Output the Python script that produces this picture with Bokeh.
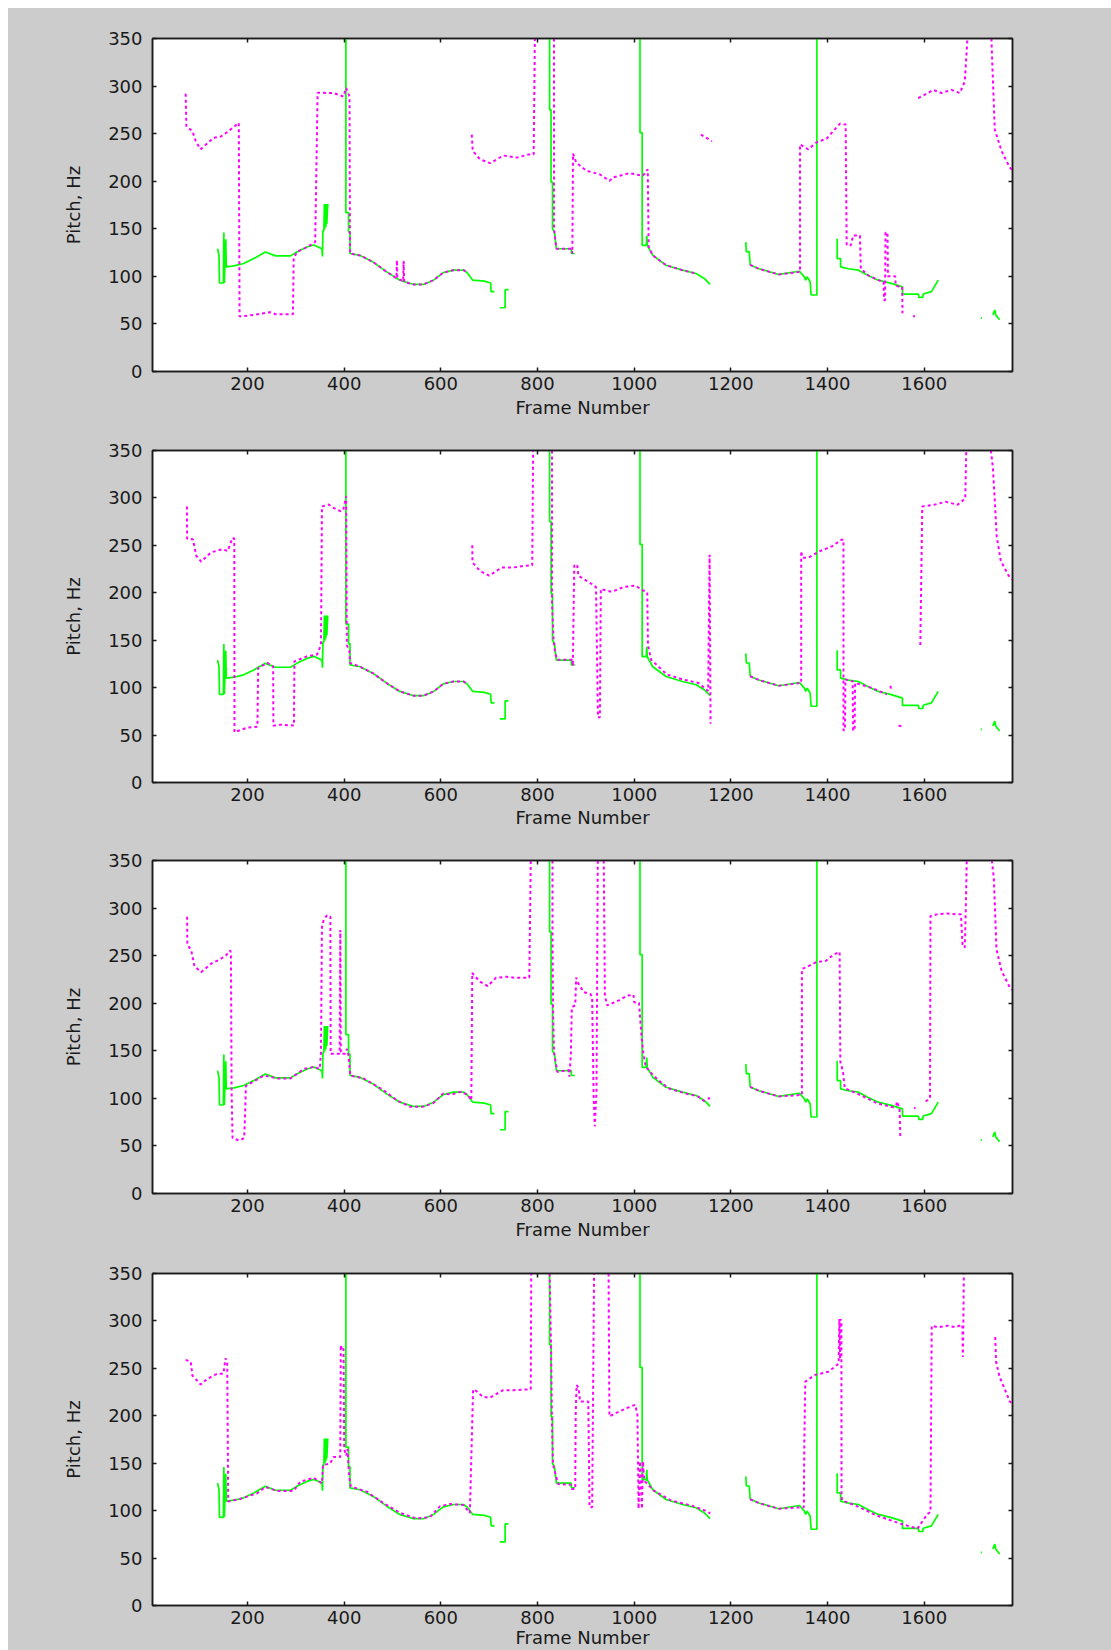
from bokeh.plotting import figure
from bokeh.models import LinearAxis, FixedTicker, Range1d, CustomLabelingPolicy
from bokeh.layouts import column
from bokeh.embed import file_html
from bokeh.resources import INLINE

NaN = float("nan")

X_TICKS = [200, 400, 600, 800, 1000, 1200, 1400, 1600]
Y_TICKS = [0, 50, 100, 150, 200, 250, 300, 350]
X_LABEL = "Frame Number"
Y_LABEL = "Pitch, Hz"

# reference pitch track (solid green), identical in all four panels; None = unvoiced gap
GREEN = [
    (138, 129), (141, 122), (142, 93), (150, 93), (151, 146), (152, 93), (155, 139), (156, 110),
    (172, 111), (192, 113.5), (213, 118.7), (237, 125.6), (258, 121.5), (289, 121.5), (302, 125.6),
    (323, 130.8), (337, 133), (354, 129), (355, 121), (356, 148), (358, 148), (359, 176), (360, 150),
    (361, 176), (362, 152), (363, 176), (364, 155), (366, 176),
    None,
    (403.5, 350), (403.5, 167), (409, 167), (409, 146.5), (412, 146.5), (412, 124), (433, 122),
    (460, 115), (488, 104.7), (515, 96), (544, 91.5), (564, 91.5), (585, 96), (605, 104),
    (626, 106.5), (647, 106.5), (654, 104), (666, 96), (690, 95), (703, 93), (704, 84), (711, 84),
    None,
    (722, 67), (733, 67), (733, 86), (740, 86),
    None,
    (825, 350), (825, 275), (828, 275), (828, 199), (831, 199), (831, 150), (835, 146.5),
    (839, 129), (870, 129), (870, 124), (877, 124),
    None,
    (1012, 350), (1012, 251), (1016.5, 251), (1016.5, 132.6), (1025, 132.6), (1026, 143),
    (1027, 132.6), (1038.5, 122), (1066, 111.7), (1100, 106.5), (1128, 103), (1145, 97.8),
    (1157, 91.5),
    None,
    (1231, 136), (1232, 126), (1238, 126), (1240, 112), (1258, 108), (1299, 102), (1342, 105.4),
    (1352, 99.5), (1355, 96), (1358, 99.5), (1364, 94.3), (1366, 80.4), (1378, 80.4), (1378, 350),
    None,
    (1420, 139.5), (1420, 118.7), (1427, 118.7), (1427, 110), (1443, 108), (1464, 106.5),
    (1484, 101), (1505, 96), (1532, 92.6), (1555, 89), (1555, 81.4), (1588, 81.4), (1589, 78),
    (1597, 78), (1598, 81.4), (1615, 84), (1629, 96),
    None,
    (1717, 56), (1719.5, 56),
    None,
    (1742, 59.5), (1746, 64.7), (1748, 59.5), (1756, 54.3),
]

# estimated pitch tracks (dotted magenta), one per panel
MAGENTA_1 = [
    (72, 292), (73.5, 258), (86, 252.6), (93, 242), (103, 233.5), (130, 245.7), (144, 246.7),
    (158, 251.6), (182, 261.3), (183.5, 57.8), (213, 59.5), (247, 62.3), (258, 60.2), (294, 60.2),
    (295.5, 118.7), (302, 125.6), (323, 130.8), (340, 136), (345, 293), (378, 292.7), (398.6, 289),
    (404, 298), (411, 289), (412, 124), (433, 122), (460, 115), (488, 104.7), (508, 98), (509, 117),
    (510, 98), (522, 95), (523, 116), (524, 94), (544, 91.5), (564, 91.5), (585, 96), (605, 104),
    (626, 106.5), (647, 106.5), (654, 104),
    None,
    (664, 249), (666, 231.8), (681, 223), (702, 219), (729, 227), (757, 224.8), (781, 228),
    (792, 228), (794.5, 350),
    None,
    (834, 350), (834, 150), (839, 129), (870, 129), (872, 124), (873.5, 229), (880, 219.6),
    (901, 211), (928, 207.4), (949, 200.4), (956, 204), (990, 208.5), (1018, 205.7), (1028, 212.6),
    (1030, 131), (1038.5, 122), (1066, 111.7), (1100, 106.5), (1128, 103),
    None,
    (1138, 249), (1161, 242),
    None,
    (1240, 112), (1258, 108), (1299, 102), (1343, 104.7), (1343, 238.7), (1360, 233.5),
    (1377.6, 241), (1398, 244.6), (1426, 260.6), (1437.5, 259.6), (1439.6, 132.6), (1448, 132.6),
    (1453, 143), (1467, 143), (1469, 108), (1484, 101), (1505, 96), (1516, 94.3), (1517, 75),
    (1519, 75), (1520, 146), (1524, 146), (1525, 100), (1540, 100), (1541, 90), (1554.6, 89),
    (1555, 61.2),
    None,
    (1577, 58), (1581, 58),
    None,
    (1587.6, 287.4), (1608, 292.7), (1618.6, 296), (1636, 292.7), (1656.5, 296), (1673.7, 292.7),
    (1684, 304.8), (1689.5, 350),
    None,
    (1739, 350), (1746, 254.4), (1760, 231.8), (1777, 214.4), (1782, 212),
]

MAGENTA_2 = [
    (74.6, 291), (75, 257), (87, 256.5), (94, 239), (104, 232.8), (124.6, 242.6), (148.6, 246),
    (159, 244), (169, 258), (172.6, 257), (173, 53), (200, 58), (220.5, 58.8), (222, 120.8),
    (241, 126), (253, 122.5), (253.5, 59.9), (268.5, 61), (296, 60), (297, 127.7), (323, 133),
    (344, 135), (352, 145), (354, 291), (368, 293), (378, 289.5), (392, 286), (398, 287),
    (404, 301.7), (405.5, 145), (411, 138), (412, 126), (433, 122), (460, 115), (488, 104.7),
    (515, 96), (544, 91.5), (564, 91.5), (585, 96), (605, 104), (626, 106.5), (647, 106.5),
    (654, 104),
    None,
    (665, 250), (665.5, 232), (681, 223), (700, 218), (726, 226.7), (750, 226.7), (773, 228.5),
    (789, 229), (791, 350),
    None,
    (830, 350), (830, 190), (833, 152), (836, 138), (840, 129.5), (872, 129.5), (873, 122.6),
    (876, 228.5), (882, 230), (884.5, 218), (913, 209), (921, 206), (925, 68.7), (929, 68.7),
    (931, 204), (953.7, 201), (978, 206), (1002, 207.6), (1018.7, 202.4), (1027, 200.7),
    (1028.5, 145), (1035, 129.5), (1067.5, 113.9), (1100, 108.7), (1132.5, 105), (1153, 96.5),
    (1156, 240), (1158, 62),
    None,
    (1240, 112), (1258, 108), (1299, 102), (1345.5, 105), (1345.5, 244), (1348, 237), (1360, 237),
    (1384.5, 244), (1409, 249), (1429, 256), (1433, 256), (1433, 55), (1436, 55), (1437, 108.7),
    (1449.6, 107), (1452, 107), (1453, 55), (1456, 55), (1457, 105), (1490, 100), (1522.7, 93),
    None,
    (1530, 102), (1532, 96),
    None,
    (1547, 60), (1559, 58.3),
    None,
    (1592, 145), (1596, 291), (1620, 292.7), (1644.6, 296), (1669, 292.7), (1685, 299.6),
    (1687, 350),
    None,
    (1738, 350), (1742, 332.6), (1746, 298), (1750, 259.7), (1758.5, 233.7), (1774.8, 218),
    (1782, 214),
]

MAGENTA_3 = [
    (75, 291), (75.5, 261.4), (83.4, 256), (90, 239), (104, 232.6), (124.6, 241.6), (141.7, 245.8),
    (155, 250), (164, 255.5), (165.7, 252.8), (167, 110), (169, 58.3), (183, 55.6), (193, 58.3),
    (195, 82.6), (196.6, 113), (234, 124), (262, 121), (289, 121), (316.6, 131), (337, 133),
    (349.5, 131), (352, 148.6), (354, 280.5), (357.7, 287.5), (364.6, 292.7), (371.4, 291),
    (372, 146.9), (390.6, 146.9), (392, 277), (393, 146.9), (402, 147), (405.7, 152), (409, 145),
    (412.6, 124), (440, 121), (481, 108.7), (508.6, 98), (536, 91.3), (563, 91.3), (584, 94.8),
    (604.6, 105), (621.7, 104), (642, 107), (656, 103.5), (663, 98), (665, 232), (666, 231),
    (680, 223), (697, 218), (714, 226.7), (735, 227.8), (755, 226.7), (783, 226.7), (786, 350),
    None,
    (831, 350), (831, 273.6), (832, 197), (834, 148.6), (841, 127.8), (864, 129.8), (866, 122.8),
    (869, 147), (871, 196), (878, 197.7), (880, 227), (883, 222), (895.5, 211.6), (909.4, 209.8),
    (913, 206), (916, 103.7), (918.5, 70.6), (922, 107), (924.7, 350),
    None,
    (937, 350), (939.4, 208), (944, 197.7), (968.6, 203), (986, 208), (998.6, 208.8), (1000, 201),
    (1010, 200.4), (1015, 166), (1019, 147), (1024, 133), (1042, 122.8), (1070, 110.7),
    (1104.5, 105.4), (1132, 102), (1146, 96.7),
    None,
    (1153, 99), (1156, 101),
    None,
    (1240, 112), (1258, 108), (1299, 102), (1347, 103.7), (1347, 236), (1355.4, 237.7),
    (1376, 243), (1397, 244.6), (1411, 250.6), (1425, 254), (1426.5, 138.5), (1432, 128),
    (1435.6, 110.7), (1467, 103.7), (1502, 95), (1536.6, 90.5), (1542, 93), (1544, 96.7),
    (1549, 89), (1550.6, 60.2),
    None,
    (1579, 89.8), (1582, 89.5),
    None,
    (1603, 96.7), (1612, 100), (1613, 291.6), (1627, 293.4), (1648, 294.4), (1665.5, 293.4),
    (1676, 293.4), (1679.5, 260), (1684, 258.6), (1686, 298), (1688, 350),
    None,
    (1740, 350), (1744, 331.6), (1746, 305.5), (1749.5, 257), (1760, 234), (1777, 216.8),
    (1782, 214),
]

MAGENTA_4 = [
    (72, 259), (82.5, 257), (86, 242.3), (103, 233), (117, 239), (137.5, 244.4), (150, 244.4),
    (154.6, 260.7), (158, 255.5), (160, 109.7), (185.6, 112.5), (220, 118.4), (237, 125),
    (261, 120.8), (295.5, 120.8), (309, 130.5), (336.8, 134.7), (354, 128.8), (356, 148),
    (371, 149.6), (378, 156.6), (391.8, 156.6), (393, 274.6), (395, 269.4), (398.6, 271),
    (400, 165), (404, 158), (407, 165), (410, 137.5), (413.7, 125.3), (446.7, 120), (481, 108),
    (515.5, 97.6), (549.8, 91.7), (577, 93), (598, 104.5), (618.6, 107), (646, 106), (660, 97.6),
    (666.7, 227.8), (673.6, 226), (687, 220), (701, 219), (729, 227), (750, 227), (786, 228),
    (787, 350),
    None,
    (825, 350), (828, 274), (830, 190.7), (832, 149), (842.5, 128), (869, 127.4), (871, 122.8),
    (878, 122.8), (879, 204.6), (881, 232.5), (885, 229), (888, 215), (905, 215), (907.6, 103.7),
    (913, 103.7), (917, 350),
    None,
    (947, 350), (948.7, 199.4), (963, 203), (984, 208), (1002, 211.6), (1006.7, 201), (1009, 102),
    (1012, 152), (1016, 102), (1018, 152), (1021, 131.5), (1040.7, 121), (1076, 110.7),
    (1118.6, 105.4), (1147, 100), (1157.5, 97),
    None,
    (1240, 112), (1258, 108), (1299, 102), (1351, 103.7), (1352, 173.3), (1354, 236),
    (1373.5, 243), (1402, 246.4), (1423, 255), (1424.5, 302), (1426, 260), (1427, 302),
    (1428.7, 298.6), (1429, 117.6), (1430, 110.7), (1458.4, 105.4), (1501, 95), (1550.5, 86.3),
    (1586, 81), (1607, 96.7), (1613, 98.5), (1615.6, 295), (1628, 293.4), (1649.6, 295),
    (1664, 293.4), (1679, 296), (1680, 262), (1681, 295), (1682, 350),
    None,
    (1747, 283), (1748.7, 257), (1756, 241), (1766, 229), (1777, 215), (1782, 213),
]

FONT = "DejaVu Sans"
GRAY = "#cccccc"
INK = "#1a1a1a"

HIDE_LABELS = CustomLabelingPolicy(code="""
    for (const i of Array.from(indices)) { indices.unset(i) }
    return indices
""")


def split(points):
    xs, ys = [], []
    for pt in points:
        if pt is None:
            xs.append(NaN)
            ys.append(NaN)
        else:
            xs.append(pt[0])
            ys.append(pt[1])
    return xs, ys


def style_axis(ax, standoff):
    ax.major_tick_in = 4
    ax.major_tick_out = 0
    ax.minor_tick_line_color = None
    ax.axis_line_color = INK
    ax.axis_line_width = 1.5
    ax.major_tick_line_color = INK
    ax.major_tick_line_width = 1.5
    ax.major_label_text_font = FONT
    ax.major_label_text_color = INK
    ax.major_label_text_font_size = "18px"
    ax.major_label_standoff = standoff
    ax.axis_label_text_font = FONT
    ax.axis_label_text_font_size = "18px"
    ax.axis_label_text_font_style = "normal"
    ax.axis_label_text_color = INK


def make_panel(magenta, height, top, bottom, xlabel_standoff):
    p = figure(width=1103, height=height,
               x_range=Range1d(3.4, 1782.7), y_range=Range1d(0, 350),
               output_backend="svg", toolbar_location=None,
               min_border_left=144, min_border_right=99,
               min_border_top=top, min_border_bottom=bottom,
               border_fill_color=GRAY, background_fill_color="white",
               outline_line_color=INK, outline_line_width=1.5)
    p.grid.visible = False

    p.xaxis.ticker = FixedTicker(ticks=X_TICKS)
    p.yaxis.ticker = FixedTicker(ticks=Y_TICKS)
    style_axis(p.xaxis[0], 5)
    style_axis(p.yaxis[0], 10)
    p.xaxis.axis_label = X_LABEL
    p.xaxis.axis_label_standoff = xlabel_standoff
    p.yaxis.axis_label = Y_LABEL
    p.yaxis.axis_label_standoff = 21

    top_ax = LinearAxis(ticker=FixedTicker(ticks=X_TICKS), major_label_policy=HIDE_LABELS)
    right_ax = LinearAxis(ticker=FixedTicker(ticks=Y_TICKS), major_label_policy=HIDE_LABELS)
    style_axis(top_ax, 0)
    style_axis(right_ax, 0)
    p.add_layout(top_ax, "above")
    p.add_layout(right_ax, "right")

    gx, gy = split(GREEN)
    mx, my = split(magenta)
    p.line(gx, gy, line_color="#00ff00", line_width=1.7)
    p.line(mx, my, line_color="#ff00ff", line_width=2, line_dash="3 3")
    return p


panels = [
    make_panel(MAGENTA_1, 412, 30, 46, 4),
    make_panel(MAGENTA_2, 410, 30, 44, 3),
    make_panel(MAGENTA_3, 412, 30, 46, 4),
    make_panel(MAGENTA_4, 408, 31, 41, 0),
]

layout = column(*panels, spacing=0, margin=(8, 0, 0, 8),
                styles={"background-color": GRAY})
open("out.html", "w").write(file_html(layout, INLINE))
